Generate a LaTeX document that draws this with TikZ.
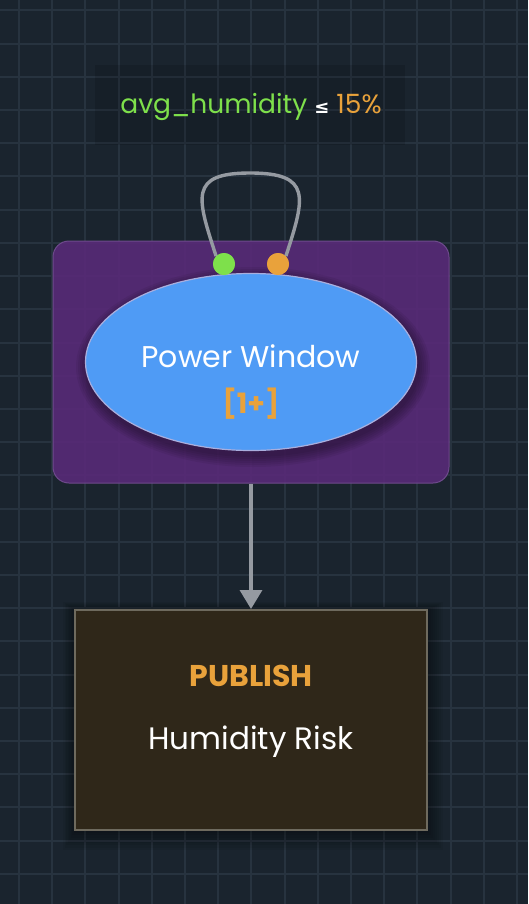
\documentclass[tikz,border=0pt]{standalone}
\usepackage{fontspec}
\setmainfont{Poppins}
\newfontfamily\symfont{DejaVu Sans}
\usetikzlibrary{arrows.meta,shapes.geometric}

\definecolor{bgdark}{HTML}{1A242E}
\definecolor{gridline}{HTML}{27333F}
\definecolor{grouppurple}{HTML}{582A78}
\definecolor{groupedge}{HTML}{6E4A8C}
\definecolor{stateblue}{HTML}{4F9BF5}
\definecolor{stateedge}{HTML}{A9AEDD}
\definecolor{pubfill}{HTML}{2F2719}
\definecolor{pubedge}{HTML}{6E6A5E}
\definecolor{warmorange}{HTML}{E9A23B}
\definecolor{condgreen}{HTML}{7EE04B}
\definecolor{wiregray}{HTML}{959AA1}

\begin{document}
\begin{tikzpicture}[x=1pt, y=-1pt, >={Triangle[width=22pt,length=19pt]},
    wire/.style={draw=wiregray, line width=3.4pt},
    port/.style={circle, inner sep=0pt, minimum size=22pt},
    txt/.style={text=white, align=center, inner sep=0pt}]
        \useasboundingbox (0,0) rectangle (528,904);
        \fill[bgdark] (0,0) rectangle (528,904);
        \foreach \i in {0,1,...,15}{
            \draw[gridline, line width=2pt] (19+33.2*\i, 0) -- (19+33.2*\i, 904);
        }
        \foreach \j in {0,1,...,27}{
            \draw[gridline, line width=2pt] (0, 10.5+33.2*\j) -- (528, 10.5+33.2*\j);
        }
        % condition label
        \fill[black, opacity=0.12] (95,65) rectangle (405,145);
        \node[txt] (cond) at (251,107) {\fontsize{26.5}{30}\selectfont
            \textcolor{condgreen}{avg\_humidity} {\symfont\bfseries\fontsize{18}{20}\selectfont ≤}
            \textcolor{warmorange}{15\%}};
        % state group
        \node[draw=groupedge, line width=1pt, fill=grouppurple, fill opacity=0.9,
            rounded corners=16pt, minimum width=396pt, minimum height=242pt] (group) at (251,362) {};
        \foreach \k in {1,2,...,6}{
            \fill[black, opacity=0.06] (253,367) ellipse ({165+2*\k} and {88+2*\k});
        }
        \node[ellipse, draw=stateedge, line width=1.2pt, fill=stateblue,
            minimum width=331pt, minimum height=177pt] (power) at (251,362) {};
        \node[txt] (powername) at (251,356) {\fontsize{30}{34}\selectfont Power Window};
        \node[txt, text=warmorange] (powercount) at (251,404) {\fontsize{28}{32}\selectfont\bfseries [1+]};
        % self loop
        \node[port, fill=condgreen] (inport) at (224,264) {};
        \node[port, fill=warmorange] (outport) at (278,264) {};
        \coordinate (looptop) at (250,173);
        \draw[wire] (inport.north west) to[out=108, in=180, looseness=1.75] (looptop)
            to[out=0, in=72, looseness=1.75] (outport.north east);
        \fill[condgreen] (inport) circle (11pt);
        \fill[warmorange] (outport) circle (11pt);
        % publish box
        \foreach \k in {1,2,...,8}{
            \fill[black, opacity=0.05] (75-1.5*\k,610-\k) rectangle (427+2*\k,830+2.5*\k);
        }
        \node[draw=pubedge, line width=2pt, fill=pubfill, minimum width=352pt, minimum height=220pt] (publish) at (251,720) {};
        \node[txt, text=warmorange] (pubtitle) at (251,676) {\fontsize{30}{34}\selectfont\bfseries PUBLISH};
        \node[txt] (pubname) at (251,742) {\fontsize{31}{34}\selectfont Humidity Risk};
        \draw[wire, ->] (group.south) -- (publish.north);
    \end{tikzpicture}
\end{document}
